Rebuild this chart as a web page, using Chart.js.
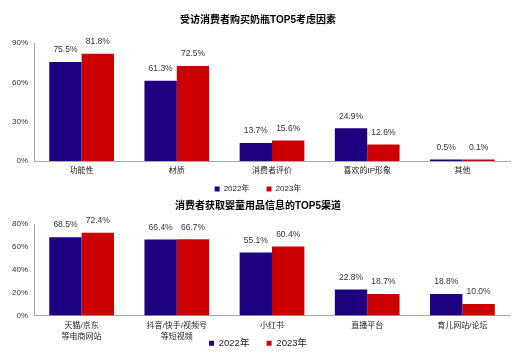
<!DOCTYPE html>
<html lang="zh">
  <head>
    <meta charset="UTF-8" />
    <title>奶瓶 TOP5</title>
    <script src="https://cdn.jsdelivr.net/npm/chart.js"></script>
    <style>
      html, body { margin: 0; padding: 0; background: #fff; overflow: hidden; }
      #wrap1 { position: absolute; left: 0; top: 0; width: 520px; height: 205px; }
      #wrap2 { position: absolute; left: 0; top: 194px; width: 520px; height: 176px; }
    </style>
  </head>
  <body>
    <div id="wrap1"><canvas id="factorChart"></canvas></div>
    <div id="wrap2"><canvas id="channelChart"></canvas></div>

    <script>
      // data for chart 1 (purchase factors)
      var factorLabels = ["功能性", "材质", "消费者评价", "喜欢的IP形象", "其他"];
      var factors2022 = [75.5, 61.3, 13.7, 24.9, 0.5];
      var factors2023 = [81.8, 72.5, 15.6, 12.6, 0.1];
      var factorTicks = [0, 30, 60, 90];

      // data for chart 2 (info channels)
      var channelLabels = [["天猫/京东", "等电商网站"], ["抖音/快手/视频号", "等短视频"], "小红书", "直播平台", "育儿网站/论坛"];
      var channels2022 = [68.5, 66.4, 55.1, 22.8, 18.8];
      var channels2023 = [72.4, 66.7, 60.4, 18.7, 10.0];
      var channelTicks = [0, 20, 40, 60, 80];

      var seriesNames = ["2022年", "2023年"];

      var FONT = 'Arial, "Liberation Sans", "Noto Sans CJK SC", sans-serif';
      var BLUE = "#1f0080";
      var RED = "#cc0000";
      var AXIS = "#a6a6a6";

      // draws the value above each bar
      var valueLabels = {
        id: "valueLabels",
        afterDatasetsDraw: function (chart) {
          var ctx = chart.ctx;
          ctx.save();
          ctx.font = "8.5px " + FONT;
          ctx.fillStyle = "#333";
          ctx.textAlign = "center";
          ctx.textBaseline = "middle";
          chart.data.datasets.forEach(function (ds, i) {
            var meta = chart.getDatasetMeta(i);
            meta.data.forEach(function (bar, j) {
              ctx.fillText(ds.data[j].toFixed(1) + "%", bar.x, bar.y - 12);
            });
          });
          ctx.restore();
        },
      };

      // lets the legend sit a bit closer to the axis labels
      var legendNudge = {
        id: "legendNudge",
        afterLayout: function (chart, args, opts) {
          if (chart.legend && opts.dy) {
            chart.legend.top += opts.dy;
            chart.legend.bottom += opts.dy;
          }
        },
      };

      function makeChart(id, labels, d1, d2, ticks, title, opts) {
        var ctx = document.getElementById(id).getContext("2d");
        return new Chart(ctx, {
          type: "bar",
          data: {
            labels: labels,
            datasets: [
              { label: seriesNames[0], data: d1, backgroundColor: BLUE, minBarLength: 1.5 },
              { label: seriesNames[1], data: d2, backgroundColor: RED, minBarLength: 1.5 },
            ],
          },
          options: {
            responsive: true,
            maintainAspectRatio: false,
            animation: false,
            categoryPercentage: 0.68,
            barPercentage: 1.0,
            layout: { padding: { left: 6, right: 10, top: 0, bottom: 0 } },
            plugins: {
              title: {
                display: true,
                text: title,
                color: "#000",
                font: { family: FONT, size: 10, weight: "bold" },
                padding: { top: opts.titleTop, bottom: opts.titleBottom },
              },
              legend: {
                display: true,
                position: "bottom",
                labels: {
                  boxWidth: opts.box,
                  boxHeight: opts.box,
                  padding: opts.legendPad,
                  color: "#222",
                  font: { family: FONT, size: opts.legendSize },
                  generateLabels: function (chart) {
                    var items = Chart.defaults.plugins.legend.labels.generateLabels(chart);
                    items[0].text = items[0].text + "     ";
                    items.forEach(function (it) { it.lineWidth = 0; });
                    return items;
                  },
                },
              },
              legendNudge: { dy: opts.legendDy },
              tooltip: { enabled: false },
            },
            scales: {
              x: {
                grid: { display: false, drawTicks: false },
                border: { color: AXIS },
                ticks: {
                  color: "#222",
                  font: { family: FONT, size: 8, lineHeight: 1.375 },
                  padding: opts.xPad,
                  maxRotation: 0,
                  autoSkip: false,
                },
              },
              y: {
                min: ticks[0],
                max: ticks[ticks.length - 1],
                afterBuildTicks: function (axis) {
                  axis.ticks = ticks.map(function (v) { return { value: v }; });
                },
                grid: { display: false, drawTicks: false },
                border: { color: AXIS },
                ticks: {
                  color: "#333",
                  font: { family: FONT, size: 8 },
                  padding: 6,
                  callback: function (v) { return v + "%"; },
                },
              },
            },
          },
          plugins: [valueLabels, legendNudge],
        });
      }

      makeChart("factorChart", factorLabels, factors2022, factors2023, factorTicks,
        "受访消费者购买奶瓶TOP5考虑因素",
        { titleTop: 14, titleBottom: 17, box: 5, legendPad: 6, legendSize: 8, legendDy: -2, xPad: 4.5 });

      makeChart("channelChart", channelLabels, channels2022, channels2023, channelTicks,
        "消费者获取婴童用品信息的TOP5渠道",
        { titleTop: 6, titleBottom: 12, box: 5, legendPad: 4, legendSize: 9.5, legendDy: -12, xPad: 4.5 });
    </script>
  </body>
</html>
